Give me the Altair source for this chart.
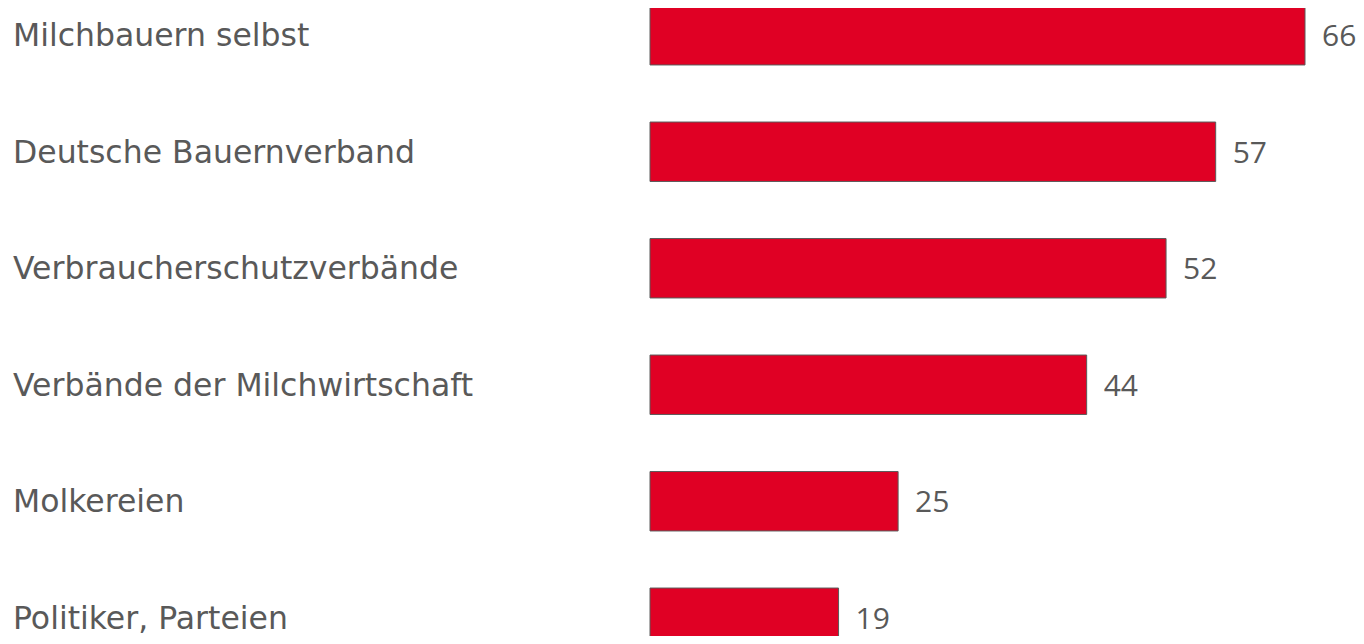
import altair as alt
import pandas as pd

categories = [
    "Milchbauern selbst",
    "Deutsche Bauernverband",
    "Verbraucherschutzverbände",
    "Verbände der Milchwirtschaft",
    "Molkereien",
    "Politiker, Parteien",
]
values = [66, 57, 52, 44, 25, 19]

df = pd.DataFrame({"cat": categories, "val": values})

y = alt.Y("cat:N", sort=categories, axis=None,
          scale=alt.Scale(range=[-31, 668], paddingInner=0.49, paddingOuter=0.245))
x = alt.X("val:Q", axis=None, scale=alt.Scale(domain=[0, 66], range=[642, 1297]))

base = alt.Chart(df)

bars = base.mark_bar(color="#E00024", stroke="#5a5a5a", strokeWidth=1).encode(x=x, y=y)

vals = base.mark_text(align="left", baseline="middle", dx=17, dy=2, font="Open Sans",
                      fontSize=30, color="#595959").encode(x=x, y=y, text="val:Q")

labels = base.mark_text(align="left", baseline="middle", dy=2, font="DejaVu Sans",
                        fontSize=31.5, color="#595959").encode(
    x=alt.value(5), y=y, text="cat:N")

chart = (bars + vals + labels).properties(
    width=1348, height=628, padding=0,
    autosize=alt.AutoSizeParams(type="none"),
).configure_view(stroke=None)

chart.save("out.html", embed_options={"renderer": "svg", "actions": False})
